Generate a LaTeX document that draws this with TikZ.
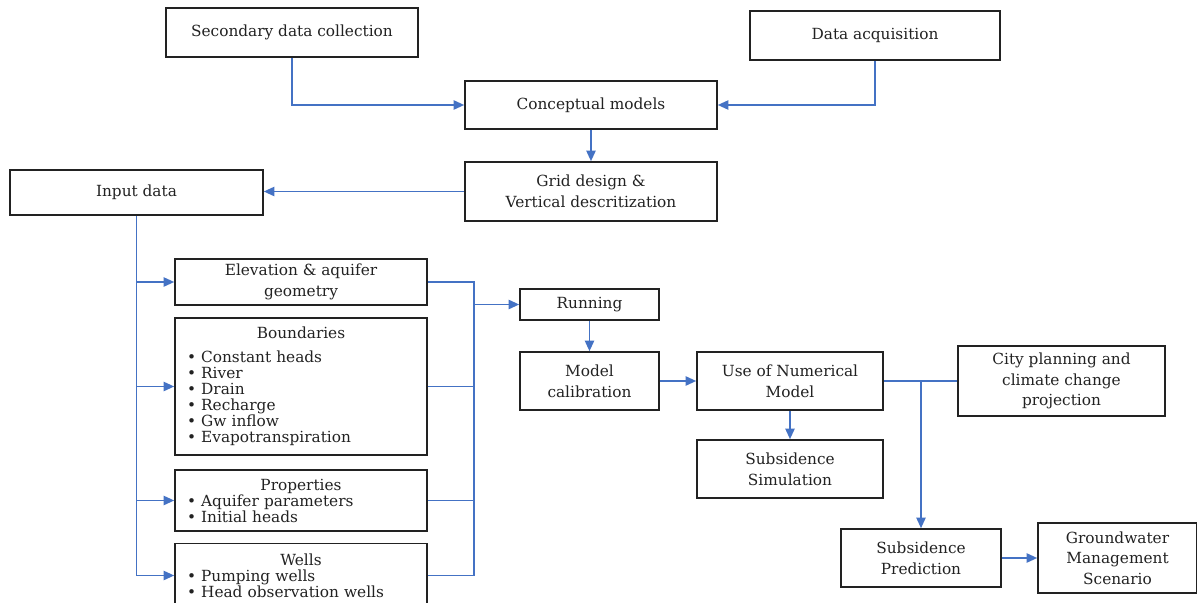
\documentclass[tikz,border=0pt]{standalone}
\usepackage{fontspec}
\setmainfont{DejaVu Serif}
\usetikzlibrary{arrows.meta}
\definecolor{blu}{RGB}{68,114,196}
\definecolor{bordo}{RGB}{34,34,34}

\begin{document}
\begin{tikzpicture}[
			x=0.75pt, y=-0.75pt,
			dim/.style 2 args={minimum width=#1*0.75pt, minimum height=#2*0.75pt},
			blocco/.style={draw=bordo, line width=1.2pt, fill=white, inner sep=2pt,
				align=center, font=\fontsize{11.5}{15.5}\selectfont, text=bordo},
			elenco/.style={blocco, align=left, inner xsep=9pt, text width=171pt,
				font=\fontsize{11.5}{12}\selectfont},
			linea/.style={draw=blu, line width=1.3pt},
			freccia/.style={linea, -{Triangle[length=8pt,width=7pt]}},
			]
			\useasboundingbox (0,0) rectangle (1197,603);
			
			%% =========================================================
			%% raccolta dati e modello concettuale
			%% =========================================================
			\node[blocco, dim={252}{49}] (sec)   at (292,32.5)  {Secondary data collection};
			\node[blocco, dim={250}{49}] (acq)   at (875,35.5)  {Data acquisition};
			\node[blocco, dim={252}{48}] (conc)  at (591,105)   {Conceptual models};
			\node[blocco, dim={252}{59}] (grid)  at (591,191.5) {Grid design \&\\Vertical descritization};
			\node[blocco, dim={253}{45}] (input) at (136.5,192.5) {Input data};
			
			\draw[freccia] (sec.south) |- (conc.west);
			\draw[freccia] (acq.south) |- (conc.east);
			\draw[freccia] (conc) -- (grid);
			\draw[freccia] (grid.west) -- (grid.west -| input.east);
			
			%% =========================================================
			%% dati di ingresso
			%% =========================================================
			\node[blocco, dim={252}{46}] (elev) at (301,282) {Elevation \& aquifer\\geometry};
			\node[elenco, dim={252}{137}] (bound) at (301,386.5) {%
				\makebox[\linewidth]{Boundaries}\\[6pt]
				• Constant heads\\
				• River\\
				• Drain\\
				• Recharge\\
				• Gw inflow\\
				• Evapotranspiration};
			\node[elenco, dim={252}{61}] (prop) at (301,500.5) {%
				\makebox[\linewidth]{Properties}\\
				• Aquifer parameters\\
				• Initial heads};
			\node[elenco, dim={252}{64}] (wells) at (301,575.5) {%
				\makebox[\linewidth]{Wells}\\
				• Pumping wells\\
				• Head observation wells\\[-4pt]};
			
			%% collettore di sinistra
			\draw[linea] (input.south) -- (input.south |- wells.west);
			\foreach \n in {elev,bound,prop,wells}
			\draw[freccia] (input.south |- \n.west) -- (\n.west);
			
			%% collettore di destra
			\coordinate (busR) at (474,304.5);
			\draw[linea] (elev.east) -| (busR |- wells.east) -- (wells.east);
			\foreach \n in {bound,prop}
			\draw[linea] (\n.east) -- (\n.east -| busR);
			
			%% =========================================================
			%% modello numerico
			%% =========================================================
			\node[blocco, dim={139}{31}] (run)   at (589.5,304.5) {Running};
			\node[blocco, dim={139}{58}] (calib) at (589.5,381)   {Model\\calibration};
			\node[blocco, dim={186}{58}] (use)   at (790,381)     {Use of Numerical\\Model};
			\node[blocco, dim={186}{58}] (sim)   at (790,469)     {Subsidence\\Simulation};
			\node[blocco, dim={207}{70}] (city)  at (1061.5,381)  {City planning and\\climate change\\projection};
			\node[blocco, dim={160}{58}] (pred)  at (921,558)     {Subsidence\\Prediction};
			\node[blocco, dim={159}{70}] (gw)    at (1117.5,558)  {Groundwater\\Management\\Scenario};
			
			\draw[freccia] (busR) -- (run.west);
			\draw[freccia] (run) -- (calib);
			\draw[freccia] (calib) -- (use);
			\draw[freccia] (use) -- (sim);
			\draw[linea] (use.east) -- (city.west);
			\coordinate (split) at (pred.north |- use.east);
			\draw[freccia] (split) -- (pred.north);
			\draw[freccia] (pred) -- (gw);
			
\end{tikzpicture}
\end{document}
